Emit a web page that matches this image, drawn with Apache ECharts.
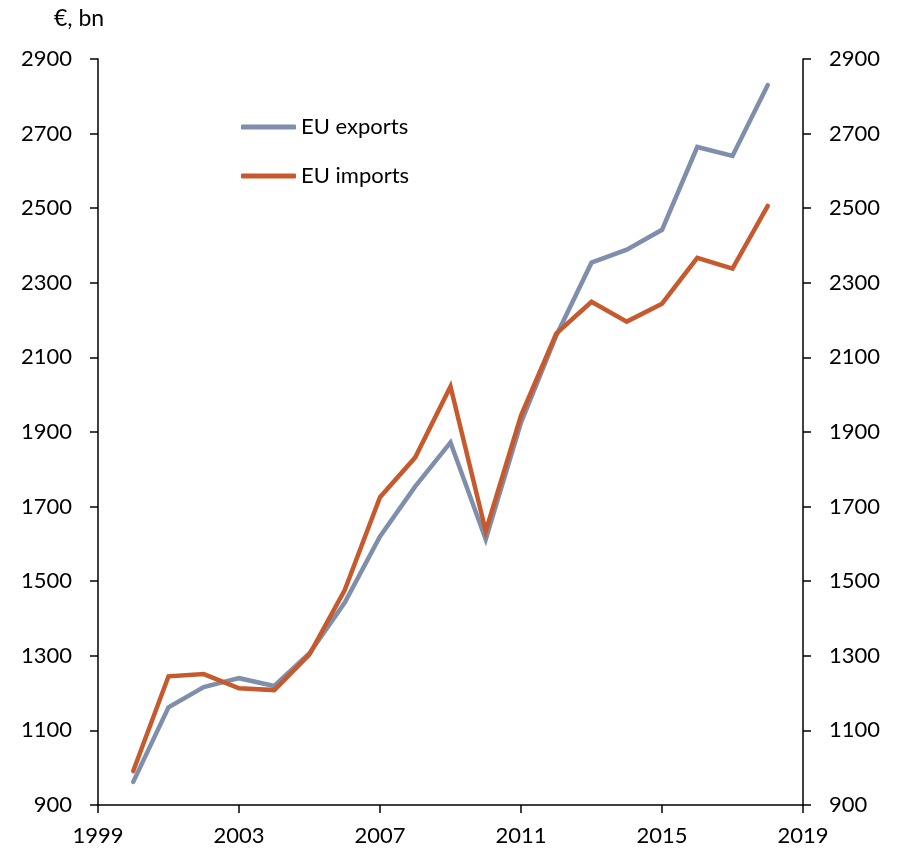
<!DOCTYPE html>
<html>
<head>
<meta charset="utf-8">
<script src="https://cdn.jsdelivr.net/npm/echarts@6/dist/echarts.min.js"></script>
<style>html,body{margin:0;padding:0;background:#fff}#c{width:905px;height:851px}</style>
</head>
<body>
<div id="c"></div>
<script>
var years = [2000,2001,2002,2003,2004,2005,2006,2007,2008,2009,2010,2011,2012,2013,2014,2015,2016,2017,2018];
var exportsEU = [962,1162,1216,1240,1219,1307,1443,1620,1754,1872,1612,1925,2158,2354,2389,2442,2664,2640,2830];
var importsEU = [991,1245,1251,1213,1208,1304,1476,1725,1832,2022,1634,1944,2164,2249,2196,2244,2367,2338,2506];
var yTicks = {min:900, max:2900, interval:200};
var xTicks = {min:1999, max:2019, interval:4};

function pairs(v){ return years.map(function(y,i){ return [y, v[i]]; }); }
var FONT = 'Lato, "Open Sans", sans-serif';
var axisLineStyle = {color:'#000', width:1.5};
var plain = function(v){ return String(v); };
var yAxisBase = function(pos){
  return {
    type:'value', position:pos, min:yTicks.min, max:yTicks.max, interval:yTicks.interval,
    axisLine:{show:true, lineStyle:axisLineStyle},
    axisTick:{show:true, inside:false, length:8, lineStyle:axisLineStyle},
    axisLabel:{color:'#000', fontSize:22, fontFamily:FONT, margin:26, formatter:plain},
    splitLine:{show:false}
  };
};
var chart = echarts.init(document.getElementById('c'), null, {renderer:'canvas'});
chart.setOption({
  animation:false,
  backgroundColor:'#fff',
  grid:{left:98, right:102, top:59, bottom:46, containLabel:false},
  graphic:[{type:'text', left:54, top:7, style:{text:'€, bn', fontSize:23, fontFamily:FONT, fill:'#000'}}],
  legend:{
    orient:'vertical', left:236, top:111, icon:'roundRect', itemWidth:55, itemHeight:5, itemGap:27,
    textStyle:{fontSize:22, fontFamily:FONT, color:'#000'},
    data:['EU exports','EU imports']
  },
  xAxis:{
    type:'value', min:xTicks.min, max:xTicks.max, interval:xTicks.interval,
    axisLine:{show:true, onZero:false, lineStyle:axisLineStyle},
    axisTick:{show:true, inside:false, length:8, lineStyle:axisLineStyle},
    axisLabel:{color:'#000', fontSize:22, fontFamily:FONT, margin:20, formatter:plain},
    splitLine:{show:false}
  },
  yAxis:[yAxisBase('left'), yAxisBase('right')],
  series:[
    {name:'EU exports', type:'line', data:pairs(exportsEU), symbol:'none', color:'#7F8FAB',
     lineStyle:{width:4.5, color:'#7F8FAB', cap:'round', join:'miter'}},
    {name:'EU imports', type:'line', data:pairs(importsEU), symbol:'none', color:'#C65A2E',
     lineStyle:{width:4.5, color:'#C65A2E', cap:'round', join:'miter'}}
  ]
});
</script>
</body>
</html>
